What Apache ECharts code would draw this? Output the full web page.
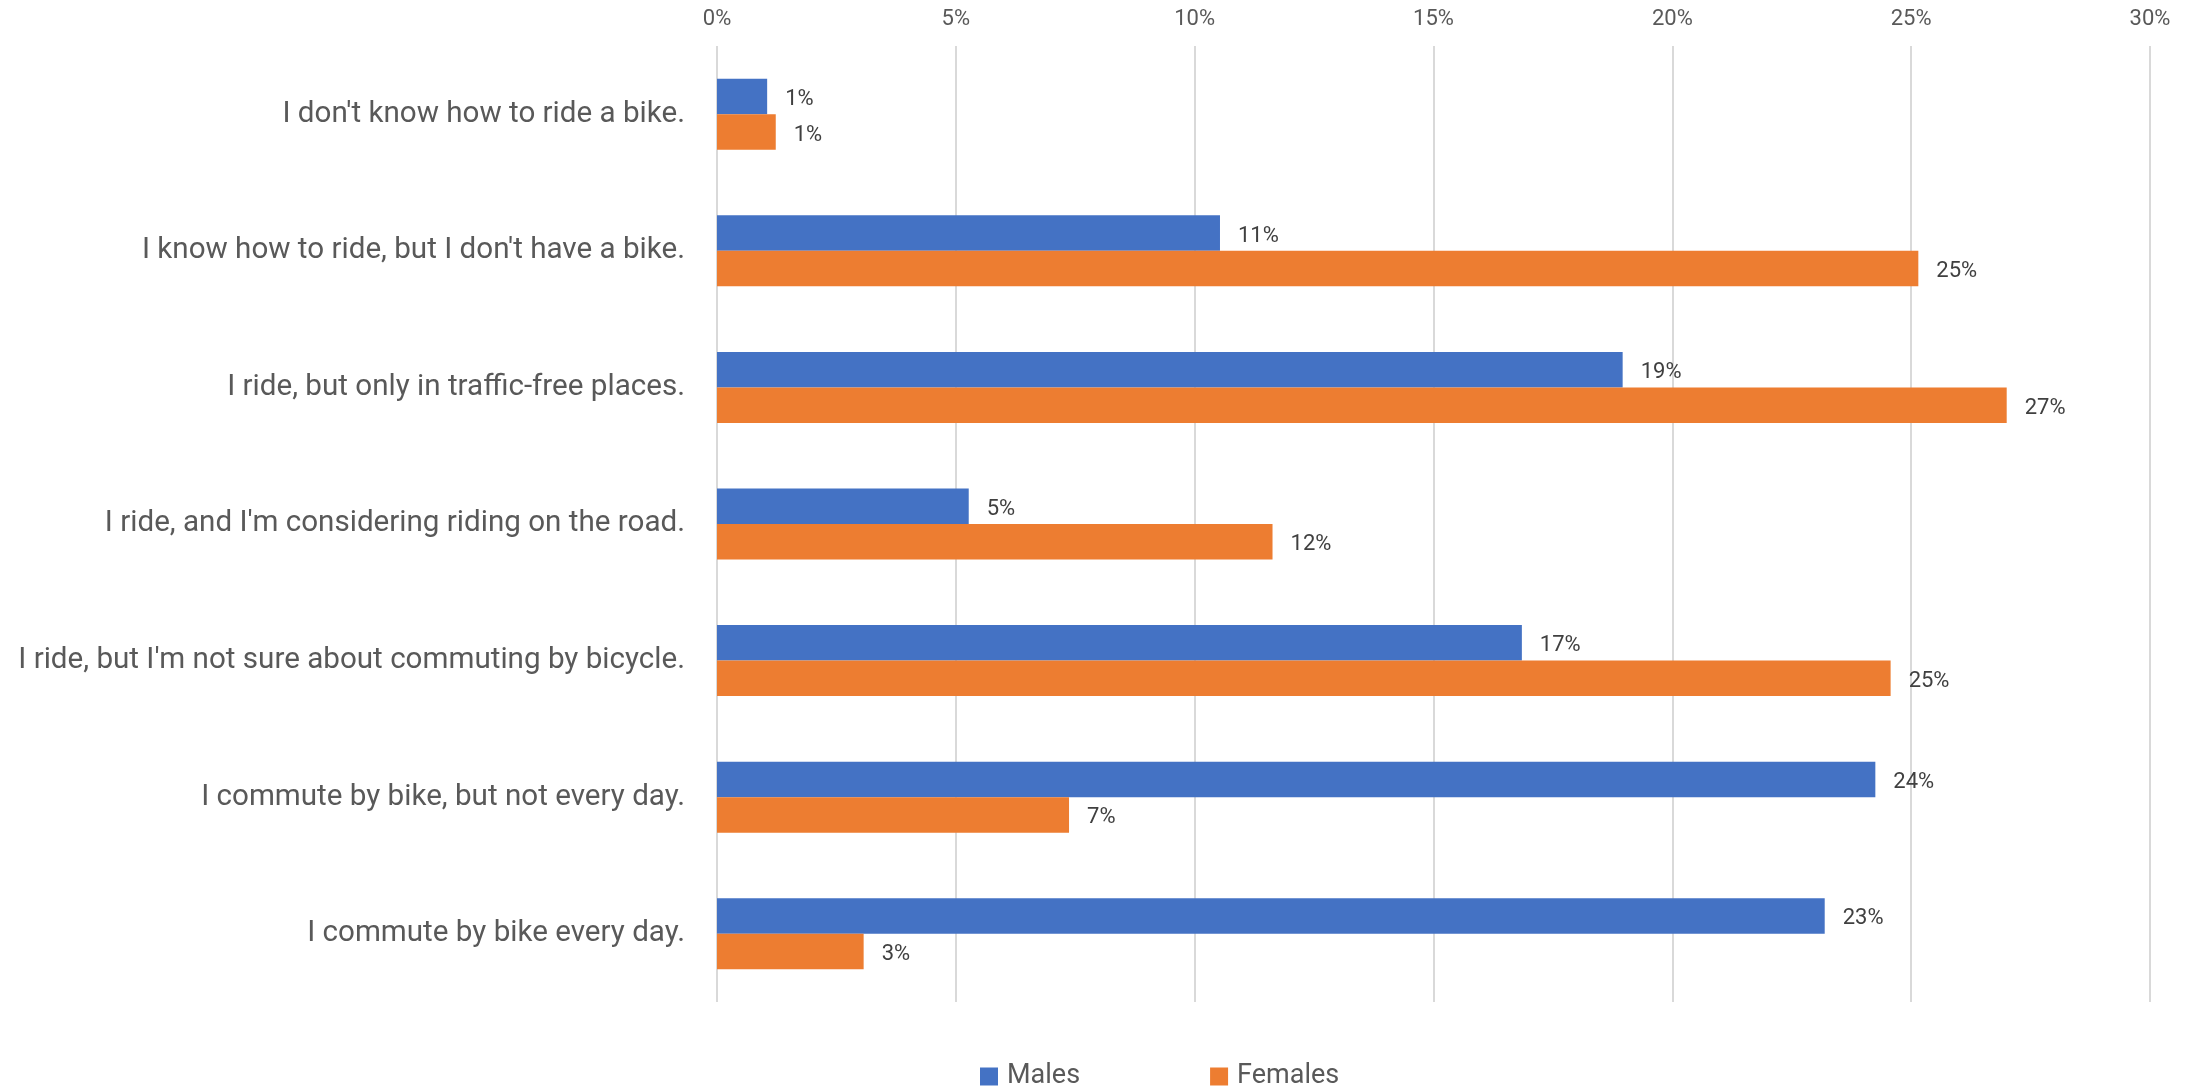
<!DOCTYPE html>
<html>
<head>
<meta charset="utf-8">
<style>
  html, body { margin: 0; padding: 0; background: #ffffff; }
  #chart { width: 2198px; height: 1088px; }
</style>
<script src="https://cdn.jsdelivr.net/npm/echarts@6/dist/echarts.min.js"></script>
</head>
<body>
<div id="chart"></div>
<script>
const categories = [
  "I don't know how to ride a bike.",
  "I know how to ride, but I don't have a bike.",
  "I ride, but only in traffic-free places.",
  "I ride, and I'm considering riding on the road.",
  "I ride, but I'm not sure about commuting by bicycle.",
  "I commute by bike, but not every day.",
  "I commute by bike every day."
];
const seriesNames = ["Males", "Females"];
const males = [1.05, 10.53, 18.96, 5.27, 16.85, 24.25, 23.19];
const females = [1.23, 25.15, 27.0, 11.63, 24.57, 7.37, 3.07];
const xTicks = { min: 0, max: 30, interval: 5 };

const FONT = "Roboto";
const chart = echarts.init(document.getElementById('chart'));

const labelCfg = {
  show: true,
  position: 'right',
  distance: 18,
  offset: [0, 3],
  color: '#404040',
  fontFamily: FONT,
  fontSize: 22,
  formatter: p => Math.round(p.value) + '%'
};

chart.setOption({
  animation: false,
  backgroundColor: '#ffffff',
  grid: { left: 717, right: 48, top: 46, bottom: 86, containLabel: false },
  legend: {
    data: seriesNames,
    left: 975,
    top: 1058,
    itemWidth: 18,
    itemHeight: 18,
    itemGap: 130,
    icon: 'rect',
    textStyle: { color: '#595959', fontFamily: FONT, fontSize: 27, padding: [0, 0, 0, 4] }
  },
  xAxis: {
    type: 'value',
    position: 'top',
    min: xTicks.min,
    max: xTicks.max,
    interval: xTicks.interval,
    axisLine: { show: false },
    axisTick: { show: false },
    splitLine: { show: true, lineStyle: { color: '#d9d9d9', width: 2 } },
    axisLabel: {
      color: '#595959',
      fontFamily: FONT,
      fontSize: 22,
      margin: 16,
      formatter: v => v + '%'
    }
  },
  yAxis: {
    type: 'category',
    data: categories,
    inverse: true,
    axisLine: { show: false },
    axisTick: { show: false },
    splitLine: { show: false },
    axisLabel: {
      color: '#595959',
      fontFamily: FONT,
      fontSize: 29.6,
      margin: 32
    }
  },
  series: [
    {
      name: seriesNames[0],
      type: 'bar',
      data: males,
      barGap: '0%',
      barCategoryGap: '48%',
      itemStyle: { color: '#4472C4' },
      label: labelCfg
    },
    {
      name: seriesNames[1],
      type: 'bar',
      data: females,
      barGap: '0%',
      barCategoryGap: '48%',
      itemStyle: { color: '#ED7D31' },
      label: labelCfg
    }
  ]
});
</script>
</body>
</html>
